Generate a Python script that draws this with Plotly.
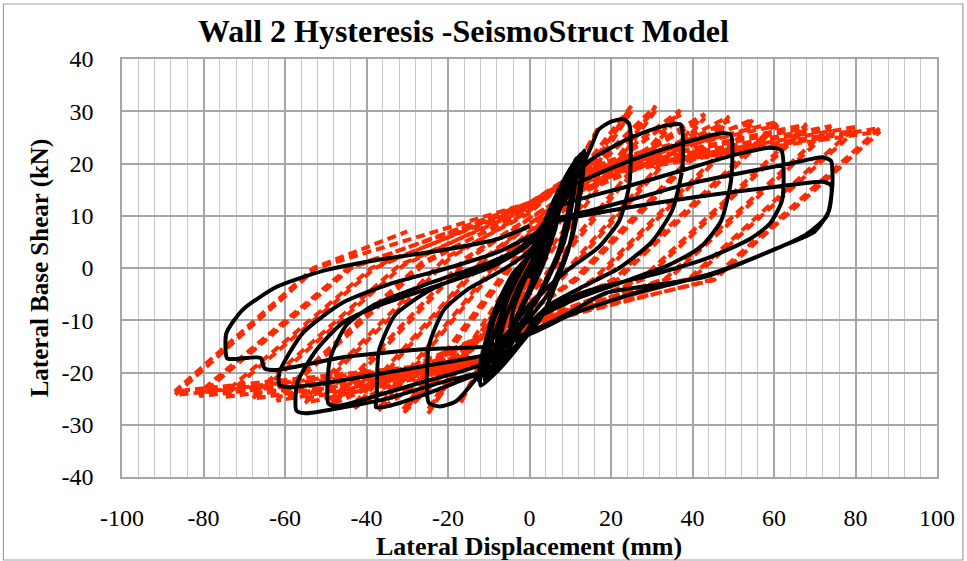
import plotly.graph_objects as go

# ---------------- data ----------------
# SeismoStruct model (red, dashed) - vertices of the hysteresis path, cycle by cycle
red_x = [
    0, 4, 0.4, -2, -4, -0.4, 2.5,
    8, 0.7, -4, -8, -0.7, 5,
    12, 1, -5, -12, -1, 6,
    17, -0.5, -7, -17, -0.1, 8,
    25, -2.5, -12, -25, 0, 10,
    25, -1.5, -11, -25, -1, 9,
    31, -0.4, -12, -31, -2.6, 10,
    31, 0.5, -11, -31, -3.5, 9,
    37, 3.1, -10, -37, -6.2, 10,
    37, 4, -9, -37, -7, 9,
    43, 7.2, -8, -43, -10.3, 8,
    43, 8, -7, -43, -11, 7,
    49, 11.2, -5, -49, -14.5, 5,
    49, 12, -4, -49, -15.5, 4,
    55, 15.9, 0, -12, -55, -19.4, 0, 12,
    55, 16.8, 0, -11, -55, -20.5, 0, 11,
    61, 21, 0, -12, -62, -25.5, 0, 12,
    61, 22, 0, -11, -62, -26.5, 0, 11,
    68, 27.6, 0, -12, -68, -31, 0, 12,
    68, 28.5, 0, -11, -68, -32, 0, 11,
    74, 33.4, 0, -12, -75, -37.9, 0, 12,
    74, 34.3, 0, -11, -75, -38.8, 0, 11,
    80, 39.2, 0, -12, -81, -43.7, 0, 12,
    80, 40, 0, -11, -81, -44.5, 0, 11,
    86, 44.4, 0, -12, -87, -52.3, 0, 12,
    86, 45.3, 0, -11, -87, -53, -30,
]
red_y = [
    0, 8, -1, -4, -8, 1, 6,
    15, -1, -8, -15, 1, 10,
    21, -1, -10, -21, 1, 12,
    27, -1, -11, -26, 1, 14,
    31, -2, -13, -28, 2, 15,
    30, -2, -12.5, -27.2, 2, 14.5,
    31, -2, -13.5, -27.8, 2, 14.5,
    30.2, -2, -13, -27, 2, 14,
    30.2, -2, -12.5, -27.3, 2, 14,
    29.4, -2, -12, -26.5, 2, 13.5,
    29.5, -2, -11.5, -26.8, 2, 13,
    28.7, -2, -11, -26, 2, 12.5,
    29, -2, -11, -26.3, 2, 12,
    28.2, -2, -10.5, -25.5, 2, 11.5,
    28.5, -2, -10.5, -18.5, -25.8, 2, 11, 19,
    27.8, -2, -10, -17.5, -25, 2, 10.5, 18,
    28, -2, -10.5, -18.5, -25.4, 1, 11.5, 19,
    27.3, -2, -10, -17.5, -24.7, 1, 11, 18,
    27.5, -2, -11, -18.5, -25, 0.5, 12, 18.5,
    26.8, -2, -10.5, -17.5, -24.3, 0.5, 11.5, 17.5,
    27.2, -2, -11, -18.5, -24.7, 0, 12.5, 18.5,
    26.5, -2, -10.5, -17.5, -24, 0, 12, 17.5,
    27, -2, -11, -18.5, -24.5, 0, 12.5, 18,
    26.3, -2, -10.5, -17.5, -23.8, 0, 12, 17,
    26.8, -2.3, -11, -18.5, -24.3, 0, 12.5, 18,
    26.1, -2.3, -10.5, -17.5, -23.6, 0, 7,
]

# Experimental test (black, solid) - vertices of the hysteresis path
blk_x = [
    0, 3, 5, 4, 1, -2, -5, -4, -1, 2,
    5, 8, 6.5, 3, -2, -5, -8, -6.5, -3, 1,
    4, 7.5, 8, 6, 2, -3, -6, -8.5, -7, -4, 0,
    4, 8, 11, 10, 7, 1, -4, -10, -9.5, -6, -1,
    5, 9, 11.5, 11, 8.5, 2, -3.5, -8, -11, -10.5, -8, -3, 1,
    6, 10, 13, 12, 9.5, 3, -2.7, -7, -12, -11.5, -9, -4, 1.5,
    7, 11, 13.5, 12.8, 10.5, 4.5, -1.5, -6, -11, -12.5, -12, -10, -5, 0.5,
    8, 12, 15, 17, 20, 23, 24.5, 24.5, 22, 17, 10, 4, 0,
    -3, -9, -13, -18, -22, -24.7, -24.7, -21, -15, -8, -2,
    2, 5, 8, 15, 25, 33, 37, 37.5, 37.5, 35, 30, 22, 12, 5,
    1, -3, -8, -15, -25, -34, -37.7, -37.5, -37, -33, -25, -15, -5,
    2, 5, 7, 15, 27.4, 38, 47, 49.4, 49.5, 47, 42, 34, 23.5, 11, 3,
    -2, -7, -12, -27, -40, -47, -49.3, -49, -45, -38, -25, -10, -3,
    2, 7, 23.5, 38, 50, 59, 61.8, 62, 59, 54, 44, 31.5, 15, 5,
    2, -3.5, -10, -20, -35, -48, -55, -57.2, -57, -52.3, -46, -37.7, -25, -10, -2,
    3, 7, 15, 27.4, 38, 49.4, 64, 72, 74, 74.3, 73, 68, 60, 45, 25, 10, 2,
    -4, -10, -20, -35, -50, -59, -61.4, -61.4, -55.7, -46, -33.7, -20, -8, 0,
    7, 20, 40, 60, 72, 74, 73.5, 70, 62, 43, 18.6, 10, 2,
    -4, -10, -25, -45, -62, -65, -66, -72, -74.2, -74.4, -70.4, -62, -50, -37.7, -21.5, -8, 0,
]
blk_y = [
    -2, 3, 8, 3, -3, -8, -14, -8, -2, 2,
    9, 15, 8, 0, -8, -13, -18, -11, -4, 2,
    8, 13, 16, 9, 0, -9, -13.5, -17, -10, -3, 3,
    8, 14, 19.5, 13, 3, -7, -14, -20.5, -15, -7, 1,
    9, 16, 21, 15, 5, -6, -12, -17, -21.5, -16, -8, -1, 4,
    13, 19, 22, 14, 3.4, -9.3, -15, -19, -22.5, -17, -9, -1, 3.4,
    12, 18, 22.5, 16, 6, -5, -11, -15, -19, -21.5, -18, -12, -4, 3,
    12, 18, 23, 26.5, 28, 28.5, 27.5, 16, 9, 4, 0, -4, -7,
    -10, -16, -21, -25.5, -26.5, -25.8, -15, -8, -4, -1, 2,
    5, 10, 15, 20.7, 25, 27.2, 27.5, 26.5, 19, 11, 5, 0, -4, -7,
    -10, -15, -19, -21, -24, -26.3, -26.6, -25, -16, -9, -4.5, -1, 2,
    6, 10, 14.3, 17.4, 21.3, 24, 25.8, 25.5, 17, 9, 4, 0.5, -2.5, -6, -9,
    -11, -15.5, -18.5, -22, -25, -26.4, -26, -17.6, -11, -7, -3, 1, 3.5,
    7, 11.7, 15.5, 18.8, 21.6, 23, 22.5, 13, 8.5, 5.5, 2, -1, -4.2, -7.5,
    -10, -15, -19.5, -21.5, -25, -27, -27.8, -27.3, -22, -15.7, -10.6, -7.4, -4, 0, 3.5,
    7.5, 9.5, 11, 13.6, 15.9, 17.8, 20, 21.2, 20.5, 15.5, 10, 6.5, 3.5, -1, -5, -9, -12,
    -14, -16.5, -18, -20, -22, -22.8, -22.4, -20, -12.5, -6.7, -2.9, 0, 3, 6,
    9, 11, 13.5, 15.5, 16.5, 15.8, 11, 7, 4.2, -1.7, -4.8, -8.5, -11.5,
    -13.5, -15, -15.5, -17, -19.5, -19.2, -17.2, -17.4, -17.3, -12.5, -8, -3.6, -0.4, 1.5, 3.4, 5.5, 8,
]

x_ticks = [-100, -80, -60, -40, -20, 0, 20, 40, 60, 80, 100]
y_ticks = [-40, -30, -20, -10, 0, 10, 20, 30, 40]

title_text = "Wall 2 Hysteresis -SeismoStruct Model"
x_title = "Lateral Displacement (mm)"
y_title = "Lateral Base Shear (kN)"

# ---------------- figure ----------------
SERIF = "Liberation Serif, Times New Roman, serif"
W, H = 967, 561
L, R, T, B = 122, 27, 59, 84
PW, PH = W - L - R, H - T - B

fig = go.Figure()
fig.add_trace(go.Scatter(
    x=red_x, y=red_y, mode="lines", name="SeismoStruct",
    line=dict(color="#FF2A00", width=4, dash="9px,5px"),
    showlegend=False,
))
fig.add_trace(go.Scatter(
    x=blk_x, y=blk_y, mode="lines", name="Experiment",
    line=dict(color="#000000", width=4, shape="spline", smoothing=0.6),
    showlegend=False,
))

fig.update_layout(
    width=W, height=H,
    margin=dict(l=L, r=R, t=T, b=B),
    paper_bgcolor="white", plot_bgcolor="white",
    font=dict(family=SERIF, size=24, color="black"),
    xaxis=dict(
        range=[-100, 100], tickvals=x_ticks, ticktext=[str(v) for v in x_ticks],
        showgrid=True, gridcolor="#A6A6A6", gridwidth=1.5,
        minor=dict(tick0=-100, dtick=4, showgrid=True, gridcolor="#C8C8C8", gridwidth=1.2),
        zeroline=False, showline=True, linecolor="#A6A6A6", linewidth=1.5, mirror=True,
        ticks="", ticklabelstandoff=18,
        tickfont=dict(family=SERIF, size=24, color="black"),
    ),
    yaxis=dict(
        range=[-40, 40], tickvals=y_ticks, ticktext=[str(v) for v in y_ticks],
        showgrid=True, gridcolor="#A6A6A6", gridwidth=1.5,
        zeroline=False, showline=True, linecolor="#A6A6A6", linewidth=1.5, mirror=True,
        ticks="", ticklabelstandoff=22,
        tickfont=dict(family=SERIF, size=24, color="black"),
    ),
    annotations=[
        dict(text="<b>%s</b>" % title_text, xref="paper", yref="paper",
             x=(465 - L) / PW, y=(H - B - 31) / PH, xanchor="center", yanchor="middle",
             showarrow=False, font=dict(family=SERIF, size=32, color="black")),
        dict(text="<b>%s</b>" % x_title, xref="paper", yref="paper",
             x=(530 - L) / PW, y=(H - B - 546) / PH, xanchor="center", yanchor="middle",
             showarrow=False, font=dict(family=SERIF, size=26, color="black")),
        dict(text="<b>%s</b>" % y_title, xref="paper", yref="paper",
             x=(40 - L) / PW, y=0.5, xanchor="center", yanchor="middle", textangle=-90,
             showarrow=False, font=dict(family=SERIF, size=25, color="black")),
    ],
    shapes=[
        dict(type="rect", xref="paper", yref="paper",
             x0=(3 - L) / PW, x1=(966 - L) / PW,
             y0=(H - B - 560) / PH, y1=(H - B - 4) / PH,
             line=dict(color="#A0A0A0", width=1.2), fillcolor="rgba(0,0,0,0)", layer="below"),
    ],
)

fig.write_html("out.html")
